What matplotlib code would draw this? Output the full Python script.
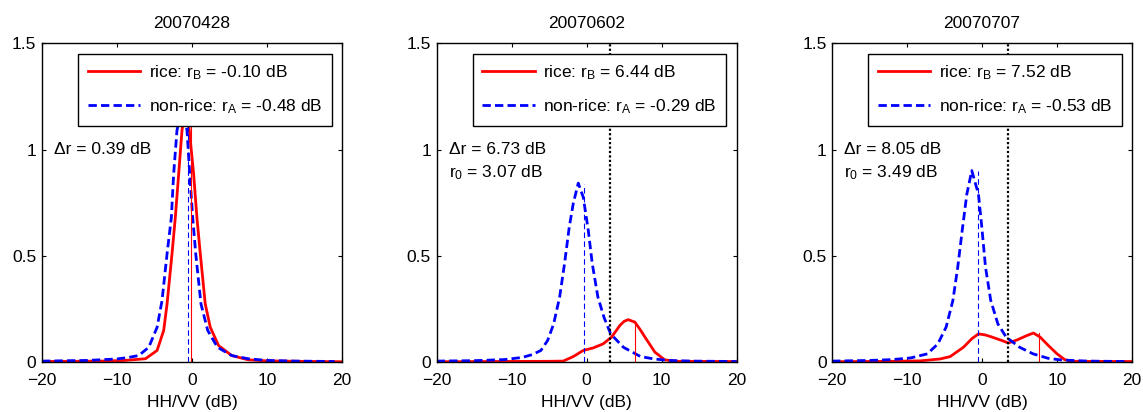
import numpy as np
import matplotlib
matplotlib.use("Agg")
import matplotlib.pyplot as plt

plt.rcParams['font.family'] = ['Liberation Sans', 'DejaVu Sans']
plt.rcParams['mathtext.default'] = 'regular'

# panel titles and summary numbers
dates = ["20070428", "20070602", "20070707"]
r_rice = [-0.10, 6.44, 7.52]
r_nonrice = [-0.48, -0.29, -0.53]
delta_r = [0.39, 6.73, 8.05]
r0 = [None, 3.07, 3.49]
# heights of the thin marker lines at r_B / r_A
h_rice = [1.2, 0.19, 0.137]
h_nonrice = [1.2, 0.84, 0.9]

# rice pdfs
rice_x1 = [-20, -12, -9, -6.2, -4.65, -3.77, -3.32, -2.66, -2.22, -1.77, -1.33, -0.85,
           -0.35, 0.22, 0.66, 1.11, 1.77, 2.44, 3.55, 5.3, 7.5, 10, 14, 20]
rice_y1 = [0.003, 0.005, 0.008, 0.016, 0.055, 0.149, 0.274, 0.51, 0.68, 0.886, 1.09, 1.2,
           1.09, 0.886, 0.68, 0.51, 0.274, 0.164, 0.078, 0.031, 0.011, 0.006, 0.004, 0.002]
rice_x2 = [-20, -12, -5, -3.12, -1.79, -0.45, 0.88, 2.2, 3.33, 4.44, 5.0, 5.55, 6.44, 7.1, 7.77,
           9.1, 10.4, 12, 20]
rice_y2 = [0.002, 0.003, 0.004, 0.005, 0.026, 0.055, 0.067, 0.086, 0.118, 0.173, 0.192, 0.2, 0.188,
           0.155, 0.118, 0.047, 0.011, 0.004, 0.003]
rice_x3 = [-20, -12, -8.27, -5.6, -4.27, -2.49, -1.38, -0.49, 0.4, 1.07, 2.62, 3.5, 4.62, 5.96,
           6.84, 7.73, 8.84, 9.96, 11, 12, 20]
rice_y3 = [0.002, 0.004, 0.006, 0.015, 0.026, 0.07, 0.11, 0.133, 0.128, 0.121, 0.102, 0.09, 0.104,
           0.125, 0.137, 0.118, 0.078, 0.04, 0.012, 0.004, 0.003]

# non-rice pdfs
non_x1 = [-20, -14, -10, -8.5, -7.1, -5.76, -4.65, -3.99, -3.32, -2.75, -2.44, -2.0, -1.3,
          -0.66, -0.3, 0.1, 0.5, 1.2, 2.1, 3.4, 5.3, 7.5, 10, 14, 19]
non_y1 = [0.005, 0.008, 0.015, 0.022, 0.031, 0.07, 0.164, 0.29, 0.51, 0.68, 0.886, 1.09, 1.2,
          1.09, 0.886, 0.68, 0.51, 0.274, 0.149, 0.07, 0.031, 0.016, 0.008, 0.005, 0.003]
non_x2 = [-20, -15, -11, -8.6, -7.2, -6.1, -5.2, -4.4, -3.6, -2.95, -2.32, -1.79, -1.12,
          -0.45, 0.22, 0.75, 1.5, 2.3, 3.2, 4.9, 7.2, 9.0, 11, 14, 20]
non_y2 = [0.005, 0.007, 0.012, 0.022, 0.036, 0.055, 0.102, 0.18, 0.306, 0.463, 0.635, 0.745, 0.842,
          0.776, 0.619, 0.463, 0.306, 0.212, 0.133, 0.07, 0.026, 0.015, 0.008, 0.005, 0.003]
non_x3 = [-20, -15, -12, -9.5, -7.3, -5.9, -4.8, -3.9, -3.25, -2.6, -2.04, -1.38, -0.49,
          -0.04, 0.45, 1.15, 2.1, 3.2, 5.0, 6.8, 8.8, 10.6, 14, 19]
non_y3 = [0.005, 0.008, 0.012, 0.02, 0.039, 0.086, 0.165, 0.29, 0.447, 0.635, 0.79, 0.901, 0.79,
          0.635, 0.447, 0.29, 0.18, 0.118, 0.07, 0.039, 0.018, 0.01, 0.005, 0.003]

rice_x = [rice_x1, rice_x2, rice_x3]
rice_y = [rice_y1, rice_y2, rice_y3]
non_x = [non_x1, non_x2, non_x3]
non_y = [non_y1, non_y2, non_y3]

fs = 12.5
fig = plt.figure(figsize=(11.43, 4.12), dpi=100)
lefts = [0.0367, 0.382, 0.728]

for i in range(3):
    ax = fig.add_axes([lefts[i], 0.121, 0.2625, 0.774])
    l1, = ax.plot(rice_x[i], rice_y[i], color='red', lw=2,
                  label='rice: $r_B$ = %.2f dB' % r_rice[i])
    l2, = ax.plot(non_x[i], non_y[i], color='blue', lw=2, ls=(0, (3, 1.5)),
                  label='non-rice: $r_A$ = %.2f dB' % r_nonrice[i])
    ax.plot([r_rice[i], r_rice[i]], [0, h_rice[i]], color='red', lw=0.8)
    ax.plot([r_nonrice[i], r_nonrice[i]], [0, h_nonrice[i]], color='blue', lw=0.8, ls=(0, (5, 3)))
    ax.text(-18.4, 1.0, 'Δr = %.2f dB' % delta_r[i], fontsize=fs, va='center')
    if r0[i] is not None:
        ax.axvline(r0[i], color='black', lw=1.6, ls=(0, (1, 1)))
        ax.text(-18.4, 0.89, '$r_0$ = %.2f dB' % r0[i], fontsize=fs, va='center')
    ax.set_xlim(-20, 20)
    ax.set_ylim(0, 1.5)
    ax.set_xticks([-20, -10, 0, 10, 20])
    ax.set_yticks([0, 0.5, 1, 1.5])
    ax.set_yticklabels(['0', '0.5', '1', '1.5'])
    ax.tick_params(direction='in', top=True, right=True, length=3, labelsize=fs, width=0.8)
    ax.tick_params(axis='x', pad=8)
    ax.tick_params(axis='y', pad=4)
    for s in ax.spines.values():
        s.set_linewidth(1.0)
    ax.set_title(dates[i], fontsize=fs, pad=11)
    ax.set_xlabel('HH/VV (dB)', fontsize=fs, labelpad=5)
    leg = ax.legend(handles=[l1, l2], loc='upper right', fontsize=fs, handlelength=3,
                    labelspacing=0.9, borderaxespad=0.6, fancybox=False, framealpha=1,
                    edgecolor='black', borderpad=0.55, handletextpad=0.5)
    leg.get_frame().set_linewidth(1.0)

fig.savefig('out.png', dpi=100)
